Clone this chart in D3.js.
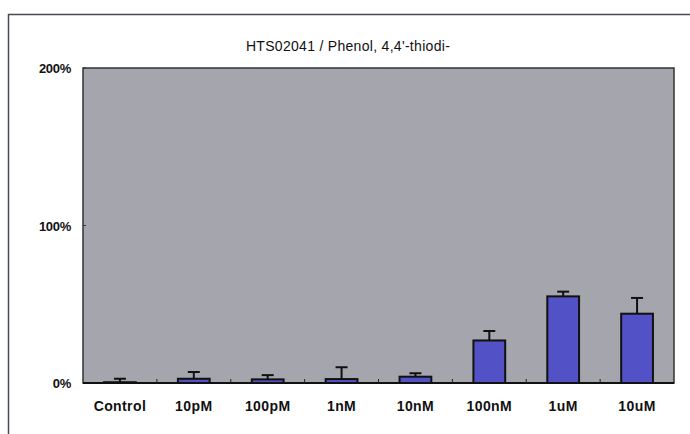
<!DOCTYPE html>
<html>
<head>
<meta charset="utf-8">
<script src="https://cdn.jsdelivr.net/npm/d3@7"></script>
<style>
  body { margin: 0; background: #fff; }
  svg text { font-family: "Liberation Sans", Arial, sans-serif; fill: #111; }
</style>
</head>
<body>
<div id="chart"></div>
<script>
var categories = ["Control", "10pM", "100pM", "1nM", "10nM", "100nM", "1uM", "10uM"];
var means = [0.5, 2.7, 2.3, 2.5, 4, 27, 55, 44];
var errs = [2.2, 4.3, 2.7, 7.5, 2.2, 6, 3, 10];
var yTicks = [0, 100, 200];
var title = "HTS02041 / Phenol, 4,4'-thiodi-";

var width = 690, height = 434;
var margin = {top: 68, right: 16, bottom: 51, left: 83};

var svg = d3.select("#chart").append("svg")
    .attr("width", width)
    .attr("height", height);

// outer frame (runs off the picture on the right and bottom)
svg.append("rect")
    .attr("x", 8.5).attr("y", 14.5)
    .attr("width", 700).attr("height", 440)
    .attr("fill", "none")
    .attr("stroke", "#4a4a55")
    .attr("stroke-width", 1.5);

var x = d3.scaleBand()
    .domain(categories)
    .range([margin.left, width - margin.right])
    .paddingInner(0.57)
    .paddingOuter(0.285);

var y = d3.scaleLinear()
    .domain([0, 200])
    .range([height - margin.bottom, margin.top]);

// plot background
svg.append("rect")
    .attr("x", margin.left)
    .attr("y", margin.top)
    .attr("width", width - margin.right - margin.left)
    .attr("height", height - margin.bottom - margin.top)
    .attr("fill", "#a5a5ad")
    .attr("stroke", "#333")
    .attr("stroke-width", 1.5);

svg.append("text")
    .attr("x", 348)
    .attr("y", 51)
    .attr("text-anchor", "middle")
    .style("font-size", "14px")
    .style("letter-spacing", "0.3px")
    .text(title);

// y axis labels
svg.selectAll(".ylab")
    .data(yTicks)
    .enter().append("text")
    .attr("class", "ylab")
    .attr("x", 71)
    .attr("y", function(d) { return y(d) + 5; })
    .attr("text-anchor", "end")
    .style("font-size", "13px")
    .style("font-weight", "bold")
    .style("letter-spacing", "-0.3px")
    .text(function(d) { return d + "%"; });

svg.selectAll(".ytick")
    .data(yTicks)
    .enter().append("line")
    .attr("x1", margin.left).attr("x2", margin.left + 3)
    .attr("y1", function(d) { return y(d); })
    .attr("y2", function(d) { return y(d); })
    .attr("stroke", "#333");

// x axis line and ticks between categories
var step = x.step();
svg.append("line")
    .attr("x1", margin.left).attr("x2", width - margin.right)
    .attr("y1", y(0)).attr("y2", y(0))
    .attr("stroke", "#111").attr("stroke-width", 2);

svg.selectAll(".xtick")
    .data(d3.range(1, categories.length))
    .enter().append("line")
    .attr("x1", function(i) { return margin.left + i * step; })
    .attr("x2", function(i) { return margin.left + i * step; })
    .attr("y1", y(0)).attr("y2", y(0) - 4)
    .attr("stroke", "#222");

svg.selectAll(".xlab")
    .data(categories)
    .enter().append("text")
    .attr("x", function(d) { return x(d) + x.bandwidth() / 2; })
    .attr("y", 411)
    .attr("text-anchor", "middle")
    .style("font-size", "14px")
    .style("font-weight", "bold")
    .style("letter-spacing", "0.4px")
    .text(function(d) { return d; });

var data = categories.map(function(c, i) { return {cat: c, v: means[i], e: errs[i]}; });

// error bars (upper half only)
var g = svg.append("g");
g.selectAll(".eb")
    .data(data)
    .enter().append("line")
    .attr("x1", function(d) { return x(d.cat) + x.bandwidth() / 2; })
    .attr("x2", function(d) { return x(d.cat) + x.bandwidth() / 2; })
    .attr("y1", function(d) { return y(d.v); })
    .attr("y2", function(d) { return y(d.v + d.e); })
    .attr("stroke", "#111").attr("stroke-width", 2);

g.selectAll(".cap")
    .data(data)
    .enter().append("line")
    .attr("x1", function(d) { return x(d.cat) + x.bandwidth() / 2 - 6; })
    .attr("x2", function(d) { return x(d.cat) + x.bandwidth() / 2 + 6; })
    .attr("y1", function(d) { return y(d.v + d.e); })
    .attr("y2", function(d) { return y(d.v + d.e); })
    .attr("stroke", "#111").attr("stroke-width", 2);

g.selectAll(".bar")
    .data(data)
    .enter().append("rect")
    .attr("x", function(d) { return x(d.cat); })
    .attr("y", function(d) { return y(d.v); })
    .attr("width", x.bandwidth())
    .attr("height", function(d) { return y(0) - y(d.v); })
    .attr("fill", "#5252c6")
    .attr("stroke", "#111")
    .attr("stroke-width", 2);
</script>
</body>
</html>
